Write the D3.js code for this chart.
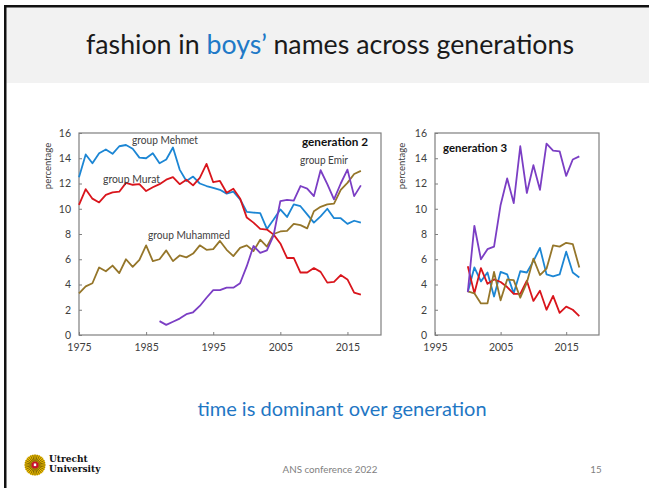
<!DOCTYPE html>
<html>
<head>
<meta charset="utf-8">
<script src="https://cdn.jsdelivr.net/npm/d3@7"></script>
<style>
  body { margin: 0; background: #fff; }
  svg { display: block; font-family: Lato, "Open Sans", sans-serif; }
</style>
</head>
<body>
<svg id="slide" width="649" height="488"></svg>
<script>
// generation 2 (1975-2017, group Emir from 1987)
var gen2Start = 1975;
var gen2EmirStart = 1987;
var gen2Mehmet = [12.5, 14.3, 13.6, 14.4, 14.7, 14.35, 14.95, 15.05, 14.75, 14.05,
  14.0, 14.4, 13.6, 13.9, 14.85, 13.1, 12.2, 12.55, 12.0, 11.8,
  11.65, 11.5, 11.2, 11.35, 10.75, 9.75, 9.7, 9.65, 8.4, 9.15,
  9.95, 9.35, 10.35, 10.2, 9.55, 8.9, 9.4, 10.0, 9.25, 9.25,
  8.8, 9.05, 8.9];
var gen2Murat = [10.3, 11.55, 10.8, 10.5, 11.1, 11.3, 11.35, 12.05, 11.9, 11.95,
  11.4, 11.7, 11.95, 12.3, 12.5, 11.95, 12.3, 11.85, 12.45, 13.55,
  12.1, 12.2, 11.27, 11.58, 10.82, 9.3, 8.9, 8.4, 8.35, 7.95,
  7.25, 6.1, 6.1, 4.95, 4.95, 5.3, 5.0, 4.15, 4.2, 4.75,
  4.4, 3.35, 3.2];
var gen2Muhammed = [3.3, 3.85, 4.1, 5.35, 5.05, 5.5, 4.9, 6.0, 5.4, 5.95,
  7.1, 5.85, 6.0, 6.7, 5.85, 6.3, 6.15, 6.45, 7.1, 6.75,
  6.8, 7.45, 6.75, 6.25, 6.9, 7.1, 6.65, 7.55, 7.0, 8.0,
  8.2, 8.25, 8.8, 8.7, 8.45, 9.8, 10.15, 10.35, 10.4, 11.5,
  12.05, 12.75, 13.0];
var gen2Emir = [1.1, 0.8, 1.05, 1.3, 1.65, 1.8, 2.3, 2.95, 3.55, 3.55,
  3.75, 3.75, 4.1, 5.45, 7.05, 6.5, 6.7, 7.9, 10.6, 10.7,
  10.65, 11.8, 11.6, 11.0, 13.05, 11.95, 10.75, 12.0, 13.1, 11.0,
  11.85];

// generation 3 (2000-2017)
var gen3Start = 2000;
var gen3Emir = [3.4, 8.65, 6.0, 6.8, 7.0, 10.3, 12.4, 10.45, 14.95, 11.25,
  13.45, 11.5, 15.15, 14.6, 14.55, 12.6, 13.9, 14.15];
var gen3Mehmet = [3.4, 5.35, 4.25, 4.95, 3.05, 5.0, 4.8, 3.3, 5.05, 4.95,
  5.85, 6.9, 4.8, 4.65, 4.8, 6.6, 4.95, 4.55];
var gen3Murat = [5.45, 3.3, 5.3, 4.05, 4.4, 4.2, 3.8, 3.25, 3.25, 4.3,
  2.7, 3.5, 2.0, 3.1, 1.75, 2.25, 2.0, 1.5];
var gen3Muhammed = [3.45, 3.3, 2.5, 2.5, 5.0, 2.75, 4.4, 4.35, 2.95, 4.15,
  6.05, 4.75, 5.25, 7.1, 7.0, 7.3, 7.2, 5.35];

var yTicks = [0, 2, 4, 6, 8, 10, 12, 14, 16];
var gen2XTicks = [1975, 1985, 1995, 2005, 2015];
var gen3XTicks = [1995, 2005, 2015];

var colors = {
  Mehmet: '#1c86d4',
  Murat: '#d9151c',
  Muhammed: '#95762a',
  Emir: '#7b3ec4'
};

function toPoints(values, start) {
  return values.map(function (v, i) { return { year: start + i, value: v }; });
}

var svg = d3.select('#slide');

// slide frame and header band
svg.append('rect').attr('x', 6).attr('y', 7).attr('width', 643).attr('height', 76).attr('fill', '#f2f2f2');
svg.append('rect').attr('x', 4).attr('y', 5).attr('width', 645).attr('height', 2.5).attr('fill', '#111');
svg.append('rect').attr('x', 4).attr('y', 5).attr('width', 2.5).attr('height', 483).attr('fill', '#111');

var title = svg.append('text')
  .attr('x', 86).attr('y', 54)
  .attr('textLength', 488).attr('lengthAdjust', 'spacingAndGlyphs')
  .style('font-size', '26px')
  .style('fill', '#1a1a1a');
title.append('tspan').text('fashion in ');
title.append('tspan').style('fill', '#2079c7').text('boys\u2019');
title.append('tspan').text(' names across generations');

function drawPanel(opts) {
  var x = d3.scaleLinear().domain(opts.xDomain).range([opts.left, opts.right]);
  var y = d3.scaleLinear().domain([0, 16]).range([opts.bottom, opts.top]);
  var g = svg.append('g');

  var xAxis = d3.axisBottom(x).tickValues(opts.xTicks).tickFormat(d3.format('d'))
    .tickSizeInner(-3).tickSizeOuter(0).tickPadding(9);
  var yAxis = d3.axisLeft(y).tickValues(yTicks).tickSizeInner(-3).tickSizeOuter(0).tickPadding(8);

  var gx = g.append('g').attr('transform', 'translate(0,' + opts.bottom + ')').call(xAxis);
  var gy = g.append('g').attr('transform', 'translate(' + opts.left + ',0)').call(yAxis);
  [gx, gy].forEach(function (a) {
    a.select('.domain').remove();
    a.selectAll('line').attr('stroke', '#7f7f7f');
    a.selectAll('text').style('font-size', '10.5px').style('fill', '#404040')
      .style('font-family', 'Lato, "Open Sans", sans-serif');
  });

  g.append('rect')
    .attr('x', opts.left).attr('y', opts.top)
    .attr('width', opts.right - opts.left).attr('height', opts.bottom - opts.top)
    .attr('fill', 'none').attr('stroke', '#7f7f7f').attr('stroke-width', 1.2);

  g.append('text')
    .attr('transform', 'translate(' + opts.labelX + ',' + (opts.top + 33) + ') rotate(-90)')
    .attr('text-anchor', 'middle')
    .style('font-size', '9.5px').style('fill', '#404040')
    .text('percentage');

  var line = d3.line().x(function (d) { return x(d.year); }).y(function (d) { return y(d.value); });

  opts.series.forEach(function (s) {
    g.append('path')
      .datum(toPoints(s.values, s.start))
      .attr('d', line)
      .attr('fill', 'none')
      .attr('stroke', colors[s.name])
      .attr('stroke-width', 1.8)
      .attr('stroke-linejoin', 'round');
  });

  return g;
}

drawPanel({
  left: 79, right: 381, top: 133, bottom: 335,
  xDomain: [1975, 2020], xTicks: gen2XTicks, labelX: 51,
  series: [
    { name: 'Mehmet', values: gen2Mehmet, start: gen2Start },
    { name: 'Murat', values: gen2Murat, start: gen2Start },
    { name: 'Muhammed', values: gen2Muhammed, start: gen2Start },
    { name: 'Emir', values: gen2Emir, start: gen2EmirStart }
  ]
});

drawPanel({
  left: 435, right: 599, top: 133, bottom: 335,
  xDomain: [1995, 2020], xTicks: gen3XTicks, labelX: 405,
  series: [
    { name: 'Mehmet', values: gen3Mehmet, start: gen3Start },
    { name: 'Murat', values: gen3Murat, start: gen3Start },
    { name: 'Muhammed', values: gen3Muhammed, start: gen3Start },
    { name: 'Emir', values: gen3Emir, start: gen3Start }
  ]
});

// in-chart labels
var labels = [
  { text: 'group Mehmet', x: 132, y: 144, w: 66 },
  { text: 'group Murat', x: 103, y: 183, w: 57 },
  { text: 'group Muhammed', x: 148, y: 239, w: 82 },
  { text: 'group Emir', x: 300, y: 164, w: 48 }
];
labels.forEach(function (l) {
  svg.append('text').attr('x', l.x).attr('y', l.y)
    .attr('textLength', l.w).attr('lengthAdjust', 'spacingAndGlyphs')
    .style('font-size', '10.5px').style('fill', '#404040').text(l.text);
});
svg.append('text').attr('x', 302).attr('y', 146)
  .attr('textLength', 66).attr('lengthAdjust', 'spacingAndGlyphs')
  .style('font-size', '11.5px').style('font-weight', 'bold').style('fill', '#111').text('generation 2');
svg.append('text').attr('x', 443).attr('y', 152)
  .attr('textLength', 64).attr('lengthAdjust', 'spacingAndGlyphs')
  .style('font-size', '11.5px').style('font-weight', 'bold').style('fill', '#111').text('generation 3');

// conclusion and footer
svg.append('text').attr('x', 342).attr('y', 416).attr('text-anchor', 'middle')
  .style('font-size', '20px').style('fill', '#1f77c4').text('time is dominant over generation');
svg.append('text').attr('x', 330).attr('y', 473).attr('text-anchor', 'middle')
  .style('font-size', '9.8px').style('fill', '#7f7f7f').text('ANS conference 2022');
svg.append('text').attr('x', 596).attr('y', 473).attr('text-anchor', 'middle')
  .style('font-size', '9.8px').style('fill', '#7f7f7f').text('15');

// university logo
var logo = svg.append('g').attr('transform', 'translate(35,465)');
logo.append('circle').attr('r', 10.5).attr('fill', '#f4c300');
d3.range(28).forEach(function (i) {
  var a = i / 28 * 2 * Math.PI;
  logo.append('line')
    .attr('x1', Math.cos(a) * 3.5).attr('y1', Math.sin(a) * 3.5)
    .attr('x2', Math.cos(a) * 10.5).attr('y2', Math.sin(a) * 10.5)
    .attr('stroke', '#3a2c00').attr('stroke-width', 0.6);
});
logo.append('circle').attr('r', 3.6).attr('fill', '#c8102e');
logo.append('rect').attr('x', -1.2).attr('y', -1.5).attr('width', 2.4).attr('height', 2.6).attr('fill', '#fff');
svg.append('text').attr('x', 49).attr('y', 462)
  .style('font-family', '"DejaVu Serif", "Liberation Serif", serif').style('font-weight', 'bold')
  .style('font-size', '9px').style('fill', '#111').text('Utrecht');
svg.append('text').attr('x', 49).attr('y', 472)
  .style('font-family', '"DejaVu Serif", "Liberation Serif", serif').style('font-weight', 'bold')
  .style('font-size', '9px').style('fill', '#111').text('University');
</script>
</body>
</html>
